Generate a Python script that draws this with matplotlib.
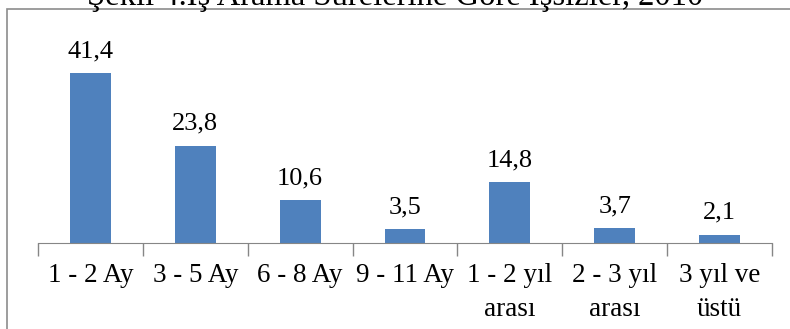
import matplotlib.pyplot as plt
from matplotlib.patches import Rectangle

plt.rcParams['font.family'] = ['Liberation Serif', 'DejaVu Serif']

# Data
categories = ['1 - 2 Ay', '3 - 5 Ay', '6 - 8 Ay', '9 - 11 Ay',
              '1 - 2 yıl\narası', '2 - 3 yıl\narası', '3 yıl ve\nüstü']
values = [41.4, 23.8, 10.6, 3.5, 14.8, 3.7, 2.1]
value_labels = ['41,4', '23,8', '10,6', '3,5', '14,8', '3,7', '2,1']
title = 'Şekil 4.İş Arama Sürelerine Göre İşsizler, 2010'

fig = plt.figure(figsize=(7.9, 3.29), dpi=100)
ax = fig.add_axes([38 / 790, 0.261, (772 - 38) / 790, 0.561])

x = range(len(categories))
bars = ax.bar(x, values, width=0.39, color='#4F81BD', zorder=2)

for b, lab in zip(bars, value_labels):
    ax.text(b.get_x() + b.get_width() / 2, b.get_height() + 2.6, lab,
            ha='center', va='bottom', fontsize=19)

ax.set_xlim(-0.5, len(categories) - 0.5)
ax.set_ylim(0, 45)
ax.set_yticks([])
ax.set_xticks([i - 0.5 for i in range(len(categories) + 1)], minor=False)
ax.set_xticklabels([])
ax.set_xticks(list(x), minor=True)
ax.set_xticklabels(categories, minor=True, fontsize=19.5, linespacing=1.5)
ax.tick_params(axis='x', which='major', length=9, color='#868686', width=1)
ax.tick_params(axis='x', which='minor', length=0, pad=14)

for s in ['top', 'right', 'left']:
    ax.spines[s].set_visible(False)
ax.spines['bottom'].set_color('#868686')

# outer chart frame
fig.patches.append(Rectangle((7 / 790, -0.1), 1.0, 1.1 - 9 / 329,
                             transform=fig.transFigure, fill=False,
                             edgecolor='#8c8c8c', linewidth=1.2))

fig.text(0.5, 1 - 4.5 / 329, title, ha='center', va='baseline',
         fontsize=23.5)

fig.savefig('out.png', dpi=100)
